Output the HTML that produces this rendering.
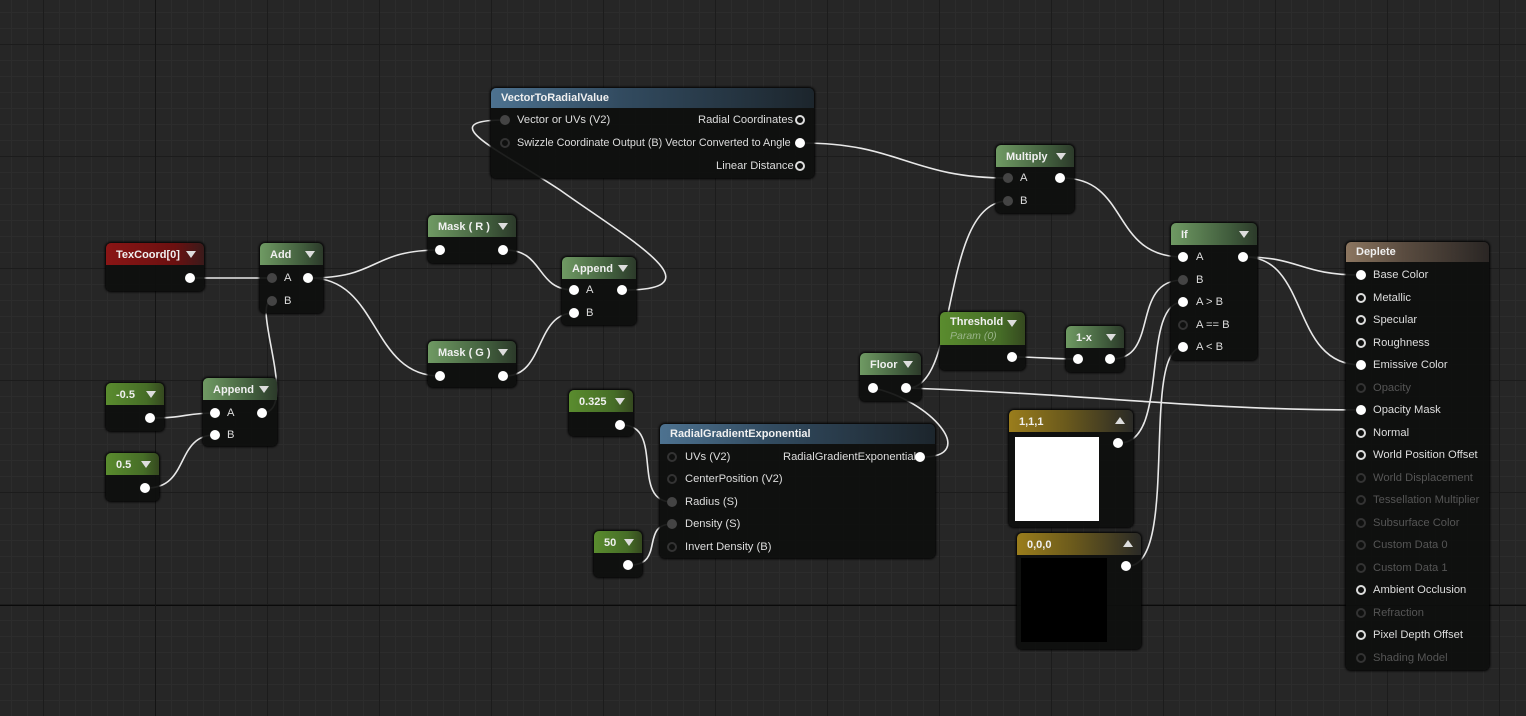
<!DOCTYPE html>
<html><head><meta charset="utf-8"><style>
*{margin:0;padding:0;box-sizing:border-box}
body{width:1526px;height:716px;overflow:hidden;position:relative;font-family:"Liberation Sans",sans-serif;font-size:11px;color:#ddd;
background-color:#262626;
background-image:
linear-gradient(to right,#1c1c1c 1px,transparent 1px),
linear-gradient(to bottom,#1c1c1c 1px,transparent 1px),
linear-gradient(to right,#2c2c2c 1px,transparent 1px),
linear-gradient(to bottom,#2c2c2c 1px,transparent 1px);
background-size:112px 112px,112px 112px,16px 16px,16px 16px;
background-position:43px 44px,43px 44px,11px 12px,11px 12px;}
.n{position:absolute;background:rgba(14,15,14,0.93);border-radius:5px;box-shadow:0 0 2px 1px #000;}
.h{height:22px;border-radius:5px 5px 0 0;padding:6px 10px 0;font-weight:bold;font-size:11px;color:#f0f0f0;position:relative}
.h.tr::after{content:"";position:absolute;right:8px;top:8px;border-left:5px solid transparent;border-right:5px solid transparent;border-top:7px solid #ddd}
.h.up::after{content:"";position:absolute;right:8px;top:7px;border-left:5px solid transparent;border-right:5px solid transparent;border-bottom:7px solid #ddd}
.g{background:linear-gradient(to right,#6f9a63,#3f5a3b 70%,#2c3a2a)}
.gb{background:linear-gradient(to right,#5a8c2e,#466d27 70%,#35491f)}
.r{background:linear-gradient(to right,#8a1515,#6b1010 70%,#3a1a1a)}
.b{background:linear-gradient(to right,#4d7290,#324b60 40%,#1c252c)}
.y{background:linear-gradient(to right,#9a7d1c,#6b5a1c 45%,#2a2a26)}
.br{background:linear-gradient(to right,#8c7660,#5a4c40 40%,#2a2624)}
.p{position:absolute;width:10px;height:10px;border-radius:50%;}
.f{background:#fff}
.o{border:2px solid #ddd}
.d{background:#444}
.do{border:2px solid #333}
.t{position:absolute;white-space:nowrap;font-size:11.2px;color:#ddd}
.dim{color:#555}
svg{position:absolute;left:0;top:0}
</style></head><body>
<div style="position:absolute;left:0;top:605px;width:1526px;height:1px;background:#0a0a0a"></div>
<div style="position:absolute;left:155px;top:0;width:1px;height:716px;background:#141414"></div>
<svg width="1526" height="716"><g fill="none" stroke="#e8e8e8" stroke-width="1.6">
<path d="M192,278 L272,278"/>
<path d="M310,278 C380,278 370,250 440,250"/>
<path d="M310,278 C380,278 370,376 440,376"/>
<path d="M262,413 C300,413 250,301 272,301"/>
<path d="M152,418 C185,418 185,413 215,413"/>
<path d="M147,488 C190,488 175,435 215,435"/>
<path d="M505,250 C545,250 535,290 574,290"/>
<path d="M505,376 C545,376 535,313 574,313"/>
<path d="M624,290 C720,290 630,240 560,190 C500,150 430,120 505,120"/>
<path d="M802,143 C900,143 910,178 1008,178"/>
<path d="M1062,178 C1130,178 1110,257 1183,257"/>
<path d="M908,388 C960,388 940,201 1008,201"/>
<path d="M1014,357 C1040,357 1050,359 1078,359"/>
<path d="M1112,359 C1160,359 1130,280 1183,280"/>
<path d="M1120,443 C1170,443 1140,302 1183,302"/>
<path d="M1128,566 C1180,566 1140,347 1183,347"/>
<path d="M1245,257 C1300,257 1300,275 1361,275"/>
<path d="M1245,257 C1310,257 1290,365 1361,365"/>
<path d="M908,388 C1100,395 1200,410 1361,410"/>
<path d="M922,457 C980,457 930,400 873,388"/>
<path d="M622,425 C665,425 630,502 672,502"/>
<path d="M630,565 C665,565 640,524 672,524"/>
</g></svg>

<div class="n" style="left:106px;top:243px;width:98px;height:48px"><div class="h r tr">TexCoord[0]</div></div>
<div class="p f" style="left:185px;top:273px"></div>
<div class="n" style="left:260px;top:243px;width:63px;height:70px"><div class="h g tr">Add</div></div>
<div class="p d" style="left:267px;top:273px"></div><span class="t" style="left:284px;top:272px">A</span>
<div class="p f" style="left:303px;top:273px"></div>
<div class="p d" style="left:267px;top:296px"></div><span class="t" style="left:284px;top:295px">B</span>
<div class="n" style="left:106px;top:383px;width:58px;height:48px"><div class="h gb tr">-0.5</div></div>
<div class="p f" style="left:145px;top:413px"></div>
<div class="n" style="left:106px;top:453px;width:53px;height:48px"><div class="h gb tr">0.5</div></div>
<div class="p f" style="left:140px;top:483px"></div>
<div class="n" style="left:203px;top:378px;width:74px;height:68px"><div class="h g tr">Append</div></div>
<div class="p f" style="left:210px;top:408px"></div><span class="t" style="left:227px;top:407px">A</span>
<div class="p f" style="left:257px;top:408px"></div>
<div class="p f" style="left:210px;top:430px"></div><span class="t" style="left:227px;top:429px">B</span>
<div class="n" style="left:428px;top:215px;width:88px;height:48px"><div class="h g tr">Mask ( R )</div></div>
<div class="p f" style="left:435px;top:245px"></div><div class="p f" style="left:498px;top:245px"></div>
<div class="n" style="left:428px;top:341px;width:88px;height:46px"><div class="h g tr">Mask ( G )</div></div>
<div class="p f" style="left:435px;top:371px"></div><div class="p f" style="left:498px;top:371px"></div>
<div class="n" style="left:562px;top:257px;width:74px;height:68px"><div class="h g tr">Append</div></div>
<div class="p f" style="left:569px;top:285px"></div><span class="t" style="left:586px;top:284px">A</span>
<div class="p f" style="left:617px;top:285px"></div>
<div class="p f" style="left:569px;top:308px"></div><span class="t" style="left:586px;top:307px">B</span>
<div class="n" style="left:491px;top:88px;width:323px;height:90px"><div class="h b" style="height:20px;padding-top:4px">VectorToRadialValue</div></div>
<div class="p d" style="left:500px;top:115px"></div><span class="t" style="left:517px;top:114px">Vector or UVs (V2)</span>
<span class="t" style="left:698px;top:114px">Radial Coordinates</span><div class="p o" style="left:795px;top:115px"></div>
<div class="p do" style="left:500px;top:138px"></div><span class="t" style="left:517px;top:137px;font-size:10.8px">Swizzle Coordinate Output (B) Vector Converted to Angle</span>
<div class="p f" style="left:795px;top:138px"></div>
<span class="t" style="left:716px;top:160px">Linear Distance</span><div class="p o" style="left:795px;top:161px"></div>
<div class="n" style="left:569px;top:390px;width:64px;height:46px"><div class="h gb tr">0.325</div></div>
<div class="p f" style="left:615px;top:420px"></div>
<div class="n" style="left:594px;top:531px;width:48px;height:46px"><div class="h gb tr">50</div></div>
<div class="p f" style="left:623px;top:560px"></div>
<div class="n" style="left:660px;top:424px;width:275px;height:134px"><div class="h b" style="height:20px;padding-top:4px">RadialGradientExponential</div></div>
<div class="p do" style="left:667px;top:452px"></div><span class="t" style="left:685px;top:451px">UVs (V2)</span>
<span class="t" style="left:783px;top:451px">RadialGradientExponential</span><div class="p f" style="left:915px;top:452px"></div>
<div class="p do" style="left:667px;top:474px"></div><span class="t" style="left:685px;top:473px">CenterPosition (V2)</span>
<div class="p d" style="left:667px;top:497px"></div><span class="t" style="left:685px;top:496px">Radius (S)</span>
<div class="p d" style="left:667px;top:519px"></div><span class="t" style="left:685px;top:518px">Density (S)</span>
<div class="p do" style="left:667px;top:542px"></div><span class="t" style="left:685px;top:541px">Invert Density (B)</span>
<div class="n" style="left:996px;top:145px;width:78px;height:68px"><div class="h g tr">Multiply</div></div>
<div class="p d" style="left:1003px;top:173px"></div><span class="t" style="left:1020px;top:172px">A</span>
<div class="p f" style="left:1055px;top:173px"></div>
<div class="p d" style="left:1003px;top:196px"></div><span class="t" style="left:1020px;top:195px">B</span>
<div class="n" style="left:860px;top:353px;width:61px;height:48px"><div class="h g tr">Floor</div></div>
<div class="p f" style="left:868px;top:383px"></div><div class="p f" style="left:901px;top:383px"></div>
<div class="n" style="left:940px;top:312px;width:85px;height:58px"><div class="h gb tr" style="height:33px;padding-top:4px">Threshold<div style="font-weight:normal;font-style:italic;color:#9ab58a;font-size:10.5px;margin-top:2px">Param (0)</div></div></div>
<div class="p f" style="left:1007px;top:352px"></div>
<div class="n" style="left:1066px;top:326px;width:58px;height:46px"><div class="h g tr">1-x</div></div>
<div class="p f" style="left:1073px;top:354px"></div><div class="p f" style="left:1105px;top:354px"></div>
<div class="n" style="left:1171px;top:223px;width:86px;height:137px"><div class="h g tr">If</div></div>
<div class="p f" style="left:1178px;top:252px"></div><span class="t" style="left:1196px;top:251px">A</span>
<div class="p f" style="left:1238px;top:252px"></div>
<div class="p d" style="left:1178px;top:275px"></div><span class="t" style="left:1196px;top:274px">B</span>
<div class="p f" style="left:1178px;top:297px"></div><span class="t" style="left:1196px;top:296px">A &gt; B</span>
<div class="p do" style="left:1178px;top:320px"></div><span class="t" style="left:1196px;top:319px">A == B</span>
<div class="p f" style="left:1178px;top:342px"></div><span class="t" style="left:1196px;top:341px">A &lt; B</span>
<div class="n" style="left:1009px;top:410px;width:124px;height:117px"><div class="h y up">1,1,1</div>
<div style="position:absolute;left:6px;top:27px;width:84px;height:84px;background:#fff"></div></div>
<div class="p f" style="left:1113px;top:438px"></div>
<div class="n" style="left:1017px;top:533px;width:124px;height:116px"><div class="h y up">0,0,0</div>
<div style="position:absolute;left:4px;top:25px;width:86px;height:84px;background:#000"></div></div>
<div class="p f" style="left:1121px;top:561px"></div>
<div class="n" style="left:1346px;top:242px;width:143px;height:428px"><div class="h br" style="height:20px;padding-top:4px">Deplete</div></div>
<div class="p f" style="left:1356px;top:270px"></div><span class="t" style="left:1373px;top:269px">Base Color</span>
<div class="p o" style="left:1356px;top:293px"></div><span class="t" style="left:1373px;top:292px">Metallic</span>
<div class="p o" style="left:1356px;top:315px"></div><span class="t" style="left:1373px;top:314px">Specular</span>
<div class="p o" style="left:1356px;top:338px"></div><span class="t" style="left:1373px;top:337px">Roughness</span>
<div class="p f" style="left:1356px;top:360px"></div><span class="t" style="left:1373px;top:359px">Emissive Color</span>
<div class="p do" style="left:1356px;top:383px"></div><span class="t dim" style="left:1373px;top:382px">Opacity</span>
<div class="p f" style="left:1356px;top:405px"></div><span class="t" style="left:1373px;top:404px">Opacity Mask</span>
<div class="p o" style="left:1356px;top:428px"></div><span class="t" style="left:1373px;top:427px">Normal</span>
<div class="p o" style="left:1356px;top:450px"></div><span class="t" style="left:1373px;top:449px">World Position Offset</span>
<div class="p do" style="left:1356px;top:473px"></div><span class="t dim" style="left:1373px;top:472px">World Displacement</span>
<div class="p do" style="left:1356px;top:495px"></div><span class="t dim" style="left:1373px;top:494px">Tessellation Multiplier</span>
<div class="p do" style="left:1356px;top:518px"></div><span class="t dim" style="left:1373px;top:517px">Subsurface Color</span>
<div class="p do" style="left:1356px;top:540px"></div><span class="t dim" style="left:1373px;top:539px">Custom Data 0</span>
<div class="p do" style="left:1356px;top:563px"></div><span class="t dim" style="left:1373px;top:562px">Custom Data 1</span>
<div class="p o" style="left:1356px;top:585px"></div><span class="t" style="left:1373px;top:584px">Ambient Occlusion</span>
<div class="p do" style="left:1356px;top:608px"></div><span class="t dim" style="left:1373px;top:607px">Refraction</span>
<div class="p o" style="left:1356px;top:630px"></div><span class="t" style="left:1373px;top:629px">Pixel Depth Offset</span>
<div class="p do" style="left:1356px;top:653px"></div><span class="t dim" style="left:1373px;top:652px">Shading Model</span>
</body></html>
